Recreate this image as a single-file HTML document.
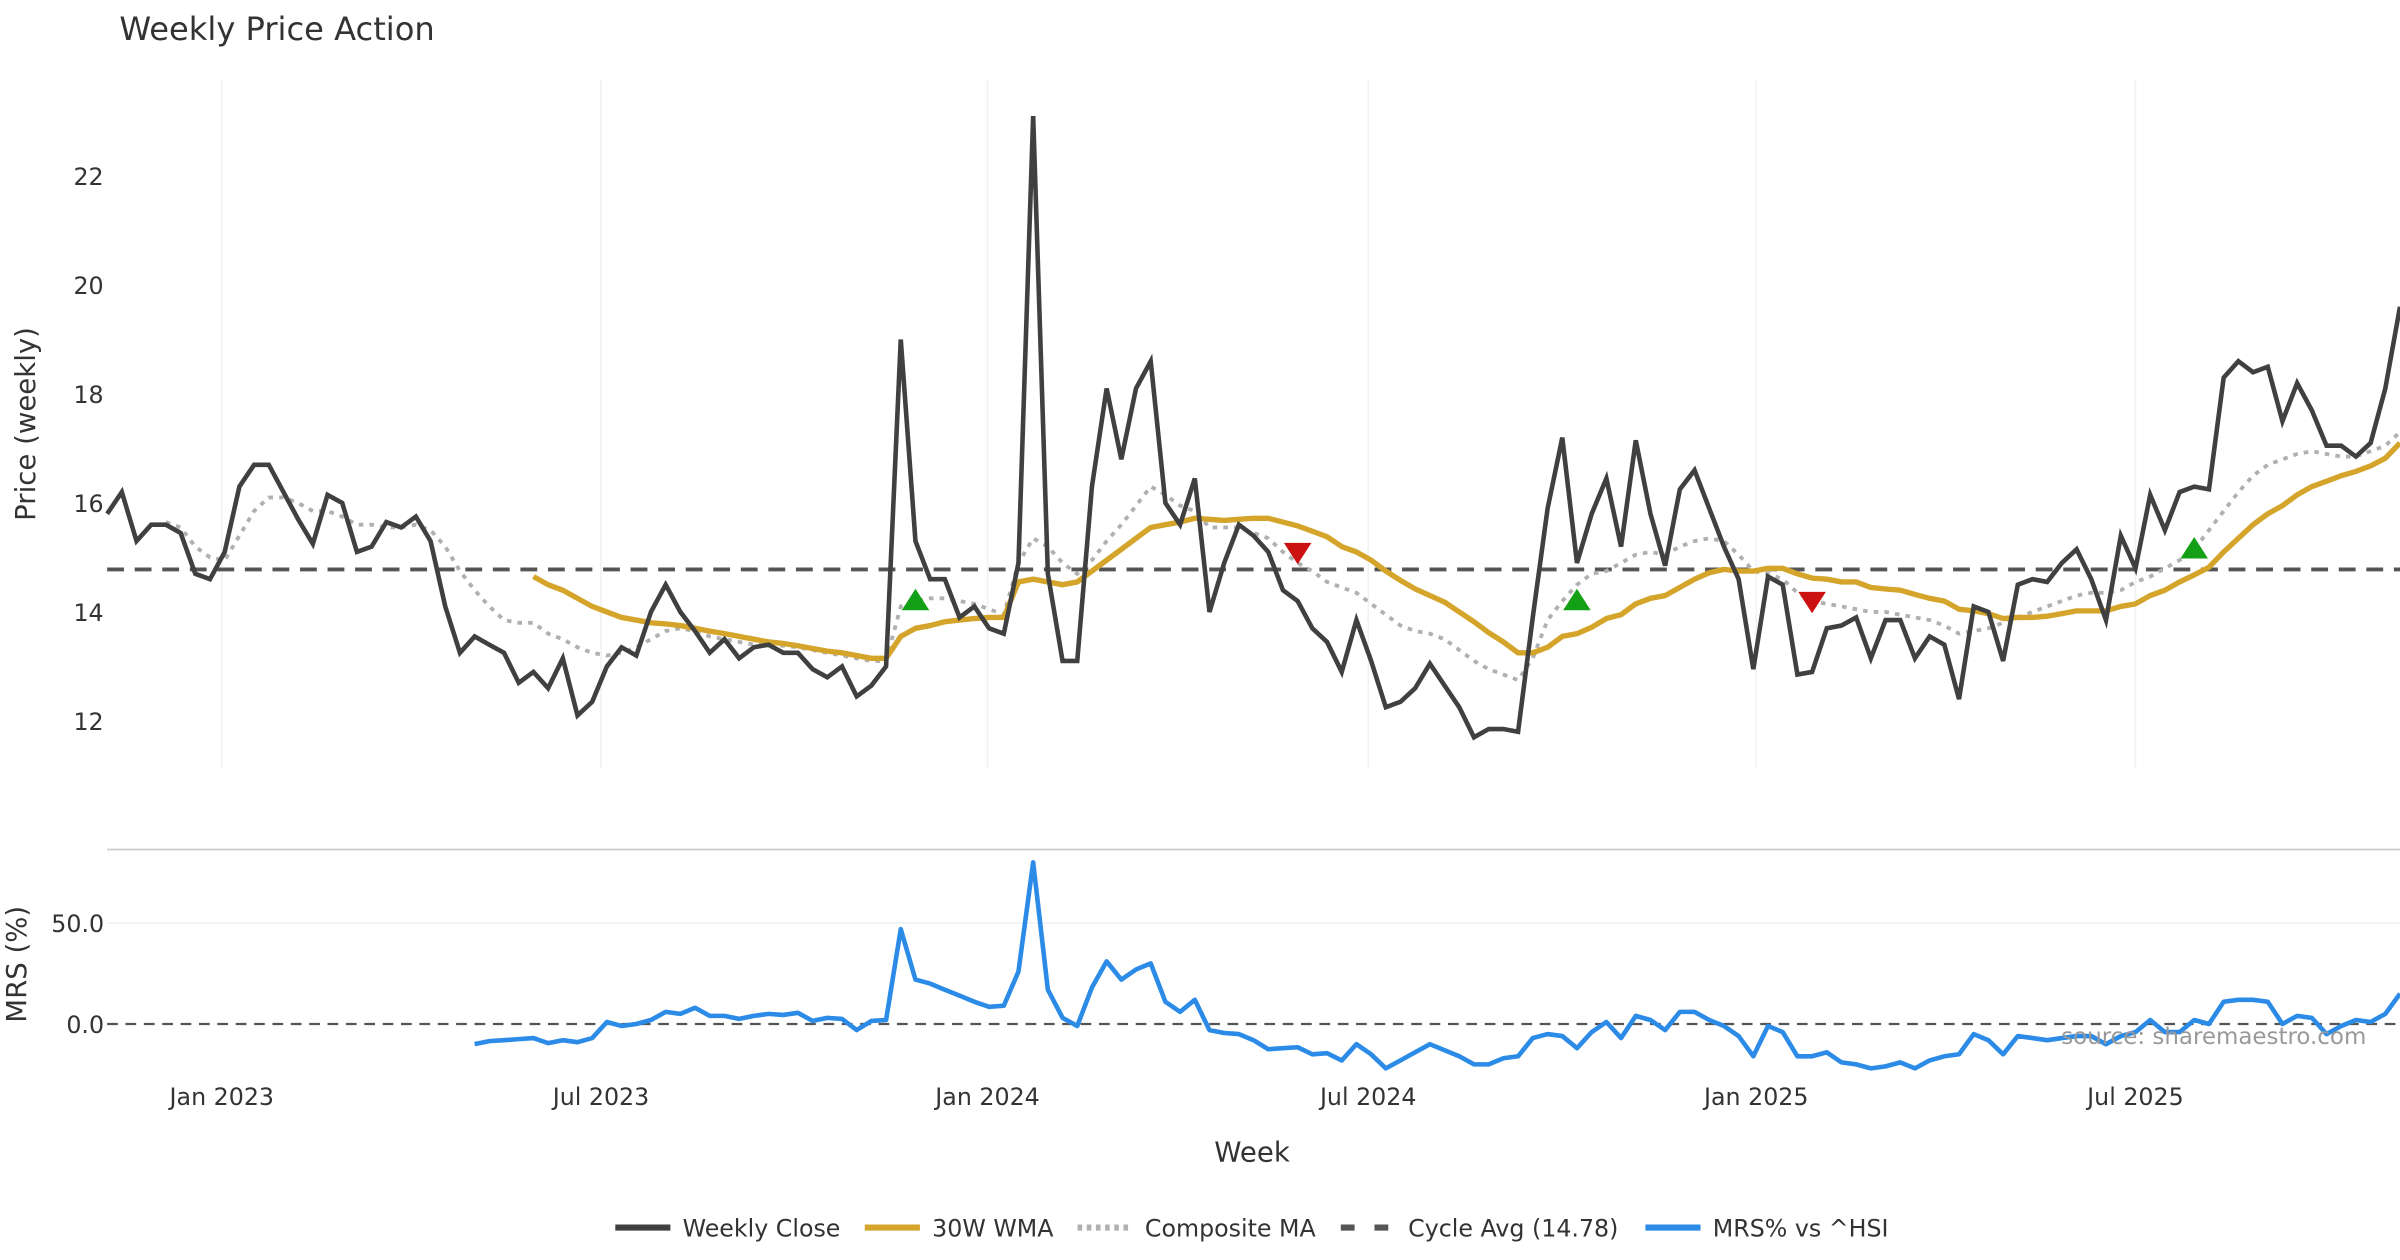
<!DOCTYPE html>
<html><head><meta charset="utf-8"><style>
html,body{margin:0;padding:0;background:#fff;}
svg{display:block;font-family:"DejaVu Sans","Liberation Sans",sans-serif;}
</style></head><body>
<svg id="chart" width="2400" height="1260" viewBox="0 0 1568 823.2" xmlns="http://www.w3.org/2000/svg">
<text x="78" y="26" font-size="21" fill="#333">Weekly Price Action</text>
<g id="grid"></g>
<g id="series"></g>
<text transform="translate(23,277) rotate(-90)" text-anchor="middle" font-size="18" fill="#333">Price (weekly)</text>
<text transform="translate(17,630) rotate(-90)" text-anchor="middle" font-size="18" fill="#333">MRS (%)</text>
<text x="818" y="759" text-anchor="middle" font-size="18" fill="#333">Week</text>
<text x="1546" y="682" text-anchor="end" font-size="15" fill="#999">source: sharemaestro.com</text>
<g id="legend"></g>
</svg>
<script>
const closeVals=[15.8,16.2,15.3,15.6,15.6,15.45,14.7,14.6,15.1,16.3,16.7,16.7,16.2,15.7,15.25,16.15,16.0,15.1,15.2,15.65,15.55,15.75,15.3,14.1,13.25,13.55,13.4,13.25,12.7,12.9,12.6,13.15,12.1,12.35,13.0,13.35,13.2,14.0,14.5,14.0,13.65,13.25,13.5,13.15,13.35,13.4,13.25,13.25,12.95,12.8,13.0,12.45,12.65,13.0,19.0,15.3,14.6,14.6,13.9,14.1,13.7,13.6,14.9,23.1,14.7,13.1,13.1,16.3,18.1,16.8,18.1,18.6,16.0,15.6,16.45,14.0,14.9,15.6,15.4,15.1,14.4,14.2,13.7,13.45,12.9,13.85,13.1,12.25,12.35,12.6,13.05,12.65,12.25,11.7,11.85,11.85,11.8,13.9,15.9,17.2,14.9,15.8,16.45,15.2,17.15,15.8,14.85,16.25,16.6,15.9,15.2,14.6,12.95,14.65,14.5,12.85,12.9,13.7,13.75,13.9,13.15,13.85,13.85,13.15,13.55,13.4,12.4,14.1,14.0,13.1,14.5,14.6,14.55,14.9,15.15,14.6,13.85,15.4,14.8,16.15,15.5,16.2,16.3,16.25,18.3,18.6,18.4,18.5,17.5,18.2,17.7,17.05,17.05,16.85,17.1,18.1,19.6];
const wmaStart=29;
const wmaVals=[14.65,14.5,14.4,14.25,14.1,14.0,13.9,13.85,13.8,13.78,13.75,13.7,13.65,13.6,13.55,13.5,13.45,13.42,13.38,13.33,13.28,13.25,13.2,13.15,13.15,13.55,13.7,13.75,13.82,13.85,13.88,13.9,13.9,14.55,14.6,14.55,14.5,14.55,14.75,14.95,15.15,15.35,15.55,15.6,15.65,15.72,15.7,15.68,15.7,15.72,15.72,15.65,15.58,15.48,15.38,15.2,15.1,14.95,14.75,14.58,14.42,14.3,14.18,14.0,13.82,13.62,13.45,13.25,13.25,13.35,13.55,13.6,13.72,13.88,13.95,14.15,14.25,14.3,14.45,14.6,14.72,14.78,14.75,14.75,14.8,14.8,14.7,14.62,14.6,14.55,14.55,14.45,14.42,14.4,14.32,14.25,14.2,14.05,14.02,13.97,13.88,13.9,13.9,13.92,13.97,14.02,14.02,14.02,14.1,14.15,14.3,14.4,14.55,14.68,14.82,15.1,15.35,15.6,15.8,15.95,16.15,16.3,16.4,16.5,16.58,16.68,16.82,17.1];
const compStart=4;
const compVals=[15.65,15.55,15.2,15.0,14.95,15.4,15.85,16.1,16.1,16.0,15.85,15.85,15.75,15.6,15.6,15.55,15.55,15.6,15.5,15.2,14.75,14.4,14.1,13.85,13.8,13.8,13.6,13.5,13.35,13.25,13.2,13.25,13.35,13.5,13.65,13.7,13.65,13.55,13.5,13.45,13.4,13.4,13.38,13.35,13.3,13.25,13.2,13.15,13.1,13.1,14.1,14.2,14.25,14.25,14.2,14.15,14.05,13.95,14.9,15.35,15.2,14.9,14.7,14.95,15.3,15.6,15.95,16.3,16.15,15.95,15.85,15.55,15.55,15.55,15.45,15.35,15.1,14.9,14.75,14.55,14.45,14.35,14.15,13.95,13.75,13.65,13.6,13.5,13.3,13.1,12.95,12.85,12.75,13.15,13.85,14.2,14.5,14.7,14.75,14.9,15.05,15.1,15.05,15.2,15.3,15.35,15.3,15.05,14.75,14.7,14.6,14.35,14.2,14.15,14.1,14.05,14.0,14.0,13.95,13.9,13.85,13.75,13.6,13.65,13.7,13.8,13.9,14.0,14.1,14.2,14.3,14.35,14.35,14.4,14.55,14.65,14.8,14.95,15.15,15.5,15.85,16.2,16.5,16.7,16.8,16.9,16.95,16.9,16.85,16.85,16.95,17.05,17.3];
const mrsStart=25;
const mrsVals=[-10,-8.5,-8,-7.5,-7,-9.5,-8,-9,-7,1,-1,0,2,6,5,8,4,4,2.5,4,5,4.5,5.5,1.5,3,2.5,-3,1.5,2,47,22,20,17,14,11,8.5,9,26,80,17,3,-1,18,31,22,27,30,11,6,12,-3,-4.5,-5,-8,-12.5,-12,-11.5,-15,-14.5,-18,-10,-15,-22,-18,-14,-10,-13,-16,-20,-20,-17,-16,-7,-5,-6,-12,-4,1,-7,4,2,-3,6,6,2,-1,-6,-16,-1,-4,-16,-16,-14,-19,-20,-22,-21,-19,-22,-18,-16,-15,-5,-8,-15,-6,-7,-8,-7,-6,-6,-10,-6,-4,2,-4,-4,2,0,11,12,12,11,0,4,3,-5,-1,2,1,5,15];
const cycleAvg=14.78;
const buyIdx=[55,100,142];
const buyVals=[14.2,14.2,15.15];
const sellIdx=[81,116];
const sellVals=[15.1,14.2];
const priceTicks=[12,14,16,18,20,22];
const mrsTicks=[0,50];
const dateTickIdx=[7.8,33.6,59.9,85.8,112.2,138.0];
const dateTickLabels=["Jan 2023","Jul 2023","Jan 2024","Jul 2024","Jan 2025","Jul 2025"];

const NS="http://www.w3.org/2000/svg";
const X0=70,X1=1568,N=closeVals.length;
const xS=i=>X0+i*(X1-X0)/(N-1);
const yP=v=>471-(v-12)*35.6;
const yM=v=>669-v*1.32;
function mk(tag,attrs,parent){const e=document.createElementNS(NS,tag);for(const k in attrs)e.setAttribute(k,attrs[k]);parent.appendChild(e);return e;}
const grid=document.getElementById('grid'),ser=document.getElementById('series'),leg=document.getElementById('legend');

dateTickIdx.forEach((t,k)=>{
  const x=xS(t);
  const g=mk('line',{x1:x,x2:x,y1:52,y2:502,stroke:'#eef1f5','stroke-width':1},grid);
  
  
  const l=mk('text',{x:x,y:722,'text-anchor':'middle','font-size':15.5,fill:'#333'},grid);
  l.textContent=dateTickLabels[k];
  
  
});
priceTicks.forEach(v=>{
  const t=mk('text',{x:48,y:yP(v)+6,'text-anchor':'start','font-size':15.5,fill:'#333'},grid);
  t.textContent=v;
  
  
});
const sep=mk('line',{x1:X0,x2:X1,y1:555,y2:555,stroke:'#ccc','stroke-width':1.2},grid);


mrsTicks.forEach(v=>{
  if(v!==0){const gl=mk('line',{x1:X0,x2:X1,y1:yM(v),y2:yM(v),stroke:'#eef0f3','stroke-width':1},grid);
  
  }
  const t=mk('text',{x:68,y:yM(v)+6,'text-anchor':'end','font-size':15.5,fill:'#333'},grid);
  t.textContent=v.toFixed(1);
  
  
});

function path(vals,start,yf){return vals.map((v,k)=>(k?'L':'M')+xS(start+k).toFixed(1)+','+yf(v).toFixed(1)).join(' ');}
const cyc=mk('line',{x1:X0,x2:X1,y1:yP(cycleAvg),y2:yP(cycleAvg),stroke:'#555','stroke-width':2.5,'stroke-dasharray':'11,7'},ser);


const z=mk('line',{x1:X0,x2:X1,y1:yM(0),y2:yM(0),stroke:'#555','stroke-width':1.5,'stroke-dasharray':'7,5'},ser);


const comp=mk('path',{d:path(compVals,compStart,yP),fill:'none',stroke:'#b0b0b0','stroke-width':2.5,'stroke-dasharray':'3,4'},ser);


const wma=mk('path',{d:path(wmaVals,wmaStart,yP),fill:'none',stroke:'#d4a52a','stroke-width':3.5,'stroke-linejoin':'round'},ser);


const cl=mk('path',{d:path(closeVals,0,yP),fill:'none',stroke:'#404040','stroke-width':3,'stroke-linejoin':'miter'},ser);


const mrs=mk('path',{d:path(mrsVals,mrsStart,yM),fill:'none',stroke:'#2b8be6','stroke-width':3,'stroke-linejoin':'round'},ser);


buyIdx.forEach((i,k)=>{
  const x=xS(i),y=yP(buyVals[k]);
  const m=mk('polygon',{points:`${x-9},${y+6} ${x+9},${y+6} ${x},${y-8}`,fill:'#13a016'},ser);
  
  
});
sellIdx.forEach((i,k)=>{
  const x=xS(i),y=yP(sellVals[k]);
  const m=mk('polygon',{points:`${x-9},${y-6} ${x+9},${y-6} ${x},${y+8}`,fill:'#cc1111'},ser);
  
  
});

const legItems=[["Weekly Close","#404040","",402],["30W WMA","#d4a52a","",565],["Composite MA","#b0b0b0","3,3",704],["Cycle Avg (14.78)","#555","9,13",876],["MRS% vs ^HSI","#2b8be6","",1075]];
legItems.forEach(it=>{
  const g=mk('g',{},leg);
  
  
  const ln=mk('line',{x1:it[3],x2:it[3]+36,y1:802,y2:802,stroke:it[1],'stroke-width':4},g);
  if(it[2])ln.setAttribute('stroke-dasharray',it[2]);
  const t=mk('text',{x:it[3]+44,y:808,'font-size':15.5,fill:'#333'},g);
  t.textContent=it[0];
});
</script>
</body></html>
